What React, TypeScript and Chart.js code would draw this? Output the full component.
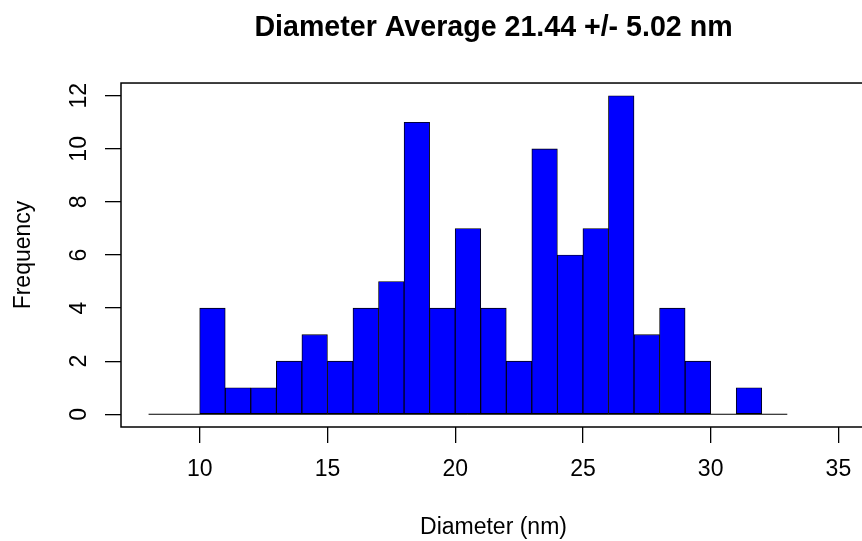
import React, { useEffect, useRef } from "react";
import { Chart, registerables } from "chart.js";

Chart.register(...registerables);

const binStarts = [10, 11, 12, 13, 14, 15, 16, 17, 18, 19, 20, 21, 22, 23, 24, 25, 26, 27, 28, 29, 30, 31];
const counts = [4, 1, 1, 2, 3, 2, 4, 5, 11, 4, 7, 4, 2, 10, 6, 7, 12, 3, 4, 2, 0, 1];
const binWidth = 1;
const baselineX = [8, 33];
const xTicks = [10, 15, 20, 25, 30, 35];
const yTicks = [0, 2, 4, 6, 8, 10, 12];
const titleText = "Diameter Average 21.44 +/- 5.02 nm";
const xTitle = "Diameter (nm)";
const yTitle = "Frequency";

const FONT = "'Liberation Sans', Arial, Helvetica, sans-serif";

const boxPlugin = {
  id: "rbox",
  afterDraw(chart: any) {
    const { ctx, chartArea } = chart;
    ctx.save();
    ctx.strokeStyle = "#000";
    ctx.lineWidth = 1.5;
    ctx.strokeRect(chartArea.left, chartArea.top, chartArea.right - chartArea.left, chartArea.bottom - chartArea.top);
    ctx.restore();
  },
};

export default function App() {
  const ref = useRef<HTMLCanvasElement | null>(null);
  useEffect(() => {
    if (!ref.current) return;
    Chart.defaults.font.family = FONT;
    Chart.defaults.color = "#000";
    const chart = new Chart(ref.current, {
      type: "bar",
      data: {
        datasets: [
          {
            type: "line",
            data: baselineX.map((x) => ({ x, y: 0 })),
            borderColor: "#000",
            borderWidth: 1,
            pointRadius: 0,
            order: 0,
          } as any,
          {
            type: "bar",
            data: binStarts.map((s, i) => ({ x: s + binWidth / 2, y: counts[i] })),
            backgroundColor: "#0000FF",
            borderColor: "#000",
            borderWidth: 0.9,
            borderSkipped: false,
            barPercentage: 1,
            categoryPercentage: 1,
            order: 1,
          } as any,
        ],
      },
      options: {
        animation: false,
        responsive: false,
        layout: { padding: 0 },
        plugins: {
          legend: { display: false },
          tooltip: { enabled: false },
          title: {
            display: true,
            text: titleText,
            fullSize: false,
            font: { size: 28.6, weight: "bold", family: FONT },
            color: "#000",
            padding: { top: 11, bottom: 37.7 },
          },
        },
        scales: {
          x: {
            type: "linear",
            min: 6.92,
            max: 36.08,
            offset: false,
            afterBuildTicks: (s: any) => {
              s.ticks = xTicks.map((v) => ({ value: v }));
            },
            afterFit: (s: any) => {
              s.height = 114;
            },
            grid: { display: true, drawOnChartArea: false, drawTicks: true, tickLength: 16, color: "#000", lineWidth: 1.3, offset: false },
            border: { display: false },
            ticks: { font: { size: 23, family: FONT }, color: "#000", padding: 13, autoSkip: false, maxRotation: 0, minRotation: 0 },
            title: { display: true, text: xTitle, font: { size: 23, family: FONT }, color: "#000", padding: { top: 0, bottom: 0 } },
          },
          y: {
            type: "linear",
            min: -0.48,
            max: 12.48,
            afterBuildTicks: (s: any) => {
              s.ticks = yTicks.map((v) => ({ value: v }));
            },
            afterFit: (s: any) => {
              s.width = 121;
            },
            grid: { display: true, drawOnChartArea: false, drawTicks: true, tickLength: 16, color: "#000", lineWidth: 1.3 },
            border: { display: false },
            ticks: { font: { size: 23, family: FONT }, color: "#000", padding: 13, autoSkip: false, minRotation: 90, maxRotation: 90, crossAlign: "center" },
            title: { display: true, text: yTitle, font: { size: 23, family: FONT }, color: "#000", padding: { top: 10, bottom: 0 } },
          },
        },
      } as any,
      plugins: [boxPlugin],
    });
    return () => chart.destroy();
  }, []);
  return (
    <div style={{ position: "absolute", left: 0, top: 0, width: 862, height: 541, overflow: "hidden", background: "#fff" }}>
      <canvas ref={ref} width={866} height={541} style={{ display: "block" }} />
    </div>
  );
}
